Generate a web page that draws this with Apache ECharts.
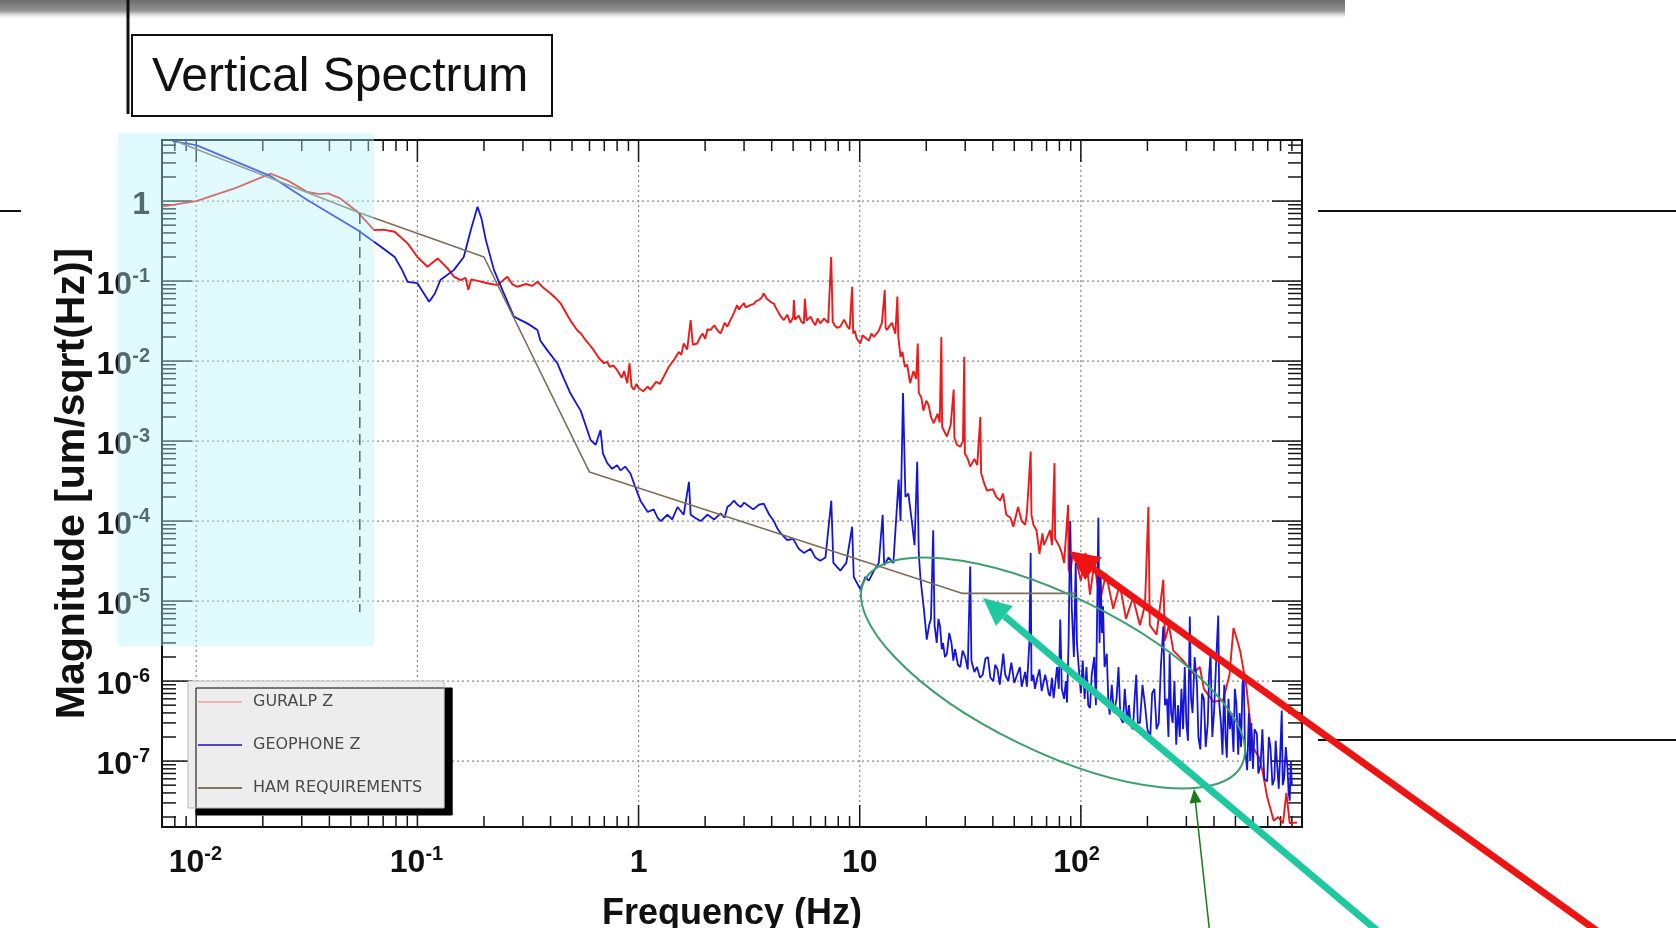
<!DOCTYPE html>
<html>
<head>
<meta charset="utf-8">
<title>Vertical Spectrum</title>
<script src="https://cdn.jsdelivr.net/npm/echarts@6.0.0/dist/echarts.min.js"></script>
<style>
  html, body { margin: 0; padding: 0; background: #fff; }
  #chart { width: 1676px; height: 928px; }
</style>
</head>
<body>
<div id="chart"></div>
<script>
// axis ranges (log scales)
const xMin = 0.007, xMax = 1000;
const yMin = 1.5e-8, yMax = 5.8;

// labelled decades and their tick labels [base, exponent]
const xTickValues = [0.01, 0.1, 1, 10, 100];
const xTickLabels = [['10', '-2'], ['10', '-1'], ['1', ''], ['10', ''], ['10', '2']];
const yTickValues = [1, 0.1, 0.01, 1e-3, 1e-4, 1e-5, 1e-6, 1e-7];
const yTickLabels = [['1', ''], ['10', '-1'], ['10', '-2'], ['10', '-3'], ['10', '-4'], ['10', '-5'], ['10', '-6'], ['10', '-7']];
const xDecadeStarts = [0.001, 0.01, 0.1, 1, 10, 100];
const yDecadeStarts = [1e-8, 1e-7, 1e-6, 1e-5, 1e-4, 1e-3, 0.01, 0.1, 1];
const tickMultipliers = [1, 2, 3, 4, 5, 6, 7, 8, 9];

// GURALP Z  [frequency Hz, magnitude]
const guralpZ = [
  [0.0071, 0.86], [0.01, 1.0], [0.015, 1.45], [0.0217, 2.2], [0.026, 1.8], [0.0318, 1.3], [0.036, 1.22],
  [0.0394, 1.25], [0.0448, 1.08], [0.0536, 0.735], [0.0637, 0.434], [0.07, 0.44], [0.0789, 0.414],
  [0.0903, 0.296], [0.1, 0.2], [0.111, 0.151], [0.1234, 0.192], [0.137, 0.144], [0.1465, 0.113],
  [0.157, 0.103], [0.165, 0.11], [0.17, 0.078], [0.175, 0.105], [0.19, 0.1], [0.207, 0.094], [0.23, 0.089],
  [0.255, 0.113], [0.27, 0.09], [0.283, 0.085], [0.31, 0.092], [0.33, 0.087], [0.349, 0.098], [0.37, 0.083],
  [0.40, 0.07], [0.42, 0.062], [0.444, 0.0527], [0.48, 0.036], [0.5, 0.03], [0.528, 0.0243], [0.55, 0.022],
  [0.57, 0.019], [0.6, 0.016], [0.628, 0.0136], [0.66, 0.011], [0.697, 0.0094], [0.72, 0.0098], [0.74, 0.0085],
  [0.77, 0.0088], [0.80, 0.0077], [0.84, 0.0062], [0.86, 0.0075], [0.889, 0.0053], [0.91, 0.0094], [0.93, 0.0048],
  [0.952, 0.0044], [0.98, 0.0052], [1.0, 0.0046], [1.05, 0.0042], [1.1, 0.0048], [1.13, 0.0044], [1.2, 0.0055],
  [1.25, 0.0052], [1.30, 0.0064], [1.37, 0.0085], [1.44, 0.0102], [1.52, 0.013], [1.56, 0.012], [1.60, 0.0166],
  [1.66, 0.014], [1.72, 0.0325], [1.76, 0.016], [1.84, 0.0166], [1.9, 0.02], [1.95, 0.022], [2.0, 0.019],
  [2.05, 0.025], [2.11, 0.0244], [2.2, 0.028], [2.28, 0.024], [2.35, 0.0222], [2.45, 0.03], [2.52, 0.027],
  [2.60, 0.0325], [2.7, 0.04], [2.79, 0.05], [2.85, 0.044], [2.9, 0.048], [3.0, 0.053], [3.05, 0.047],
  [3.2, 0.05], [3.32, 0.052], [3.4, 0.056], [3.5, 0.058], [3.6, 0.062], [3.68, 0.07], [3.75, 0.064], [3.8, 0.06],
  [3.95, 0.055], [4.09, 0.052], [4.2, 0.045], [4.3, 0.04], [4.4, 0.036], [4.54, 0.0325], [4.7, 0.038],
  [4.85, 0.03], [5.0, 0.035], [5.04, 0.058], [5.1, 0.033], [5.3, 0.037], [5.45, 0.031], [5.59, 0.0296],
  [5.65, 0.06], [5.75, 0.032], [6.0, 0.036], [6.15, 0.031], [6.3, 0.028], [6.45, 0.034], [6.63, 0.0296],
  [6.9, 0.034], [7.2, 0.03], [7.43, 0.2], [7.55, 0.031], [7.7, 0.028], [7.9, 0.026], [8.17, 0.027], [8.5, 0.033],
  [8.8, 0.027], [9.0, 0.025], [9.24, 0.085], [9.35, 0.022], [9.5, 0.024], [9.7, 0.019], [10.07, 0.0166],
  [10.3, 0.021], [10.5, 0.02], [11.0, 0.018], [11.3, 0.022], [11.6, 0.02], [12.2, 0.024], [12.6, 0.03],
  [12.98, 0.077], [13.1, 0.026], [13.3, 0.0244], [13.7, 0.028], [14.0, 0.03], [14.5, 0.022], [14.8, 0.064],
  [14.95, 0.02], [15.3, 0.0113], [15.6, 0.013], [16.0, 0.0085], [16.4, 0.009], [16.9, 0.0053], [17.5, 0.0075],
  [18.0, 0.006], [18.3, 0.0166], [18.5, 0.004], [19.0, 0.0035], [19.4, 0.0024], [20.0, 0.0032], [20.5, 0.0028],
  [21.0, 0.002], [21.6, 0.00167], [22.5, 0.0022], [23.0, 0.0017], [23.4, 0.02], [23.6, 0.0015], [24.2, 0.0013],
  [24.8, 0.00114], [25.8, 0.0016], [26.6, 0.0044], [26.8, 0.0011], [27.5, 0.0009], [28.5, 0.00085], [29.3, 0.001],
  [29.7, 0.0113], [29.9, 0.0007], [30.8, 0.0006], [31.6, 0.00048], [33, 0.0006], [34, 0.0005], [35.1, 0.002],
  [35.4, 0.0004], [36.5, 0.0003], [37.6, 0.00024], [40, 0.00025], [41.5, 0.0002], [43.2, 0.00018],
  [44.5, 0.00022], [46, 0.00012], [48, 0.00011], [49.5, 0.000085], [52, 0.00015], [54, 0.0001], [56, 0.00009],
  [57, 0.000125], [59.3, 0.00074], [59.8, 0.00012], [61, 0.00009], [63, 0.000077], [65, 0.000039], [67, 0.00007],
  [68, 0.00005], [70, 0.00006], [72.6, 0.000077], [74, 0.00005], [76, 0.00053], [76.5, 0.00006], [80, 0.000048],
  [82, 0.00004], [84, 0.00003], [87.6, 0.00016], [88, 0.000025], [89.5, 0.000022], [92, 0.00004], [95.8, 0.00003],
  [100, 0.000018], [105, 0.00004], [110, 0.000012], [115, 0.00003], [122, 0.00001], [130, 0.000022],
  [140, 0.000008], [150, 0.000016], [160, 0.000006], [172, 0.000011], [185, 0.000005], [195, 0.000009],
  [202, 0.00015], [205, 0.000005], [220, 0.0000038], [236, 0.0000185], [240, 0.0000032], [250, 0.000005],
  [262, 0.0000024], [290, 0.0000018], [322, 0.00000125], [345, 0.0000015], [360, 0.0000008], [398, 0.00000055],
  [440, 0.00000058], [470, 0.0000012], [490, 0.0000046], [505, 0.0000035], [525, 0.0000024], [560, 0.00000086],
  [600, 0.00000015], [640, 0.00000011], [665, 0.000000072], [695, 0.000000036], [745, 0.000000018],
  [780, 0.00000002], [820, 0.0000000167], [850, 0.00000004], [880, 0.0000000168], [950, 0.000000017]
];

// GEOPHONE Z  [frequency Hz, magnitude]
const geophoneZ = [
  [0.0078, 5.6], [0.01, 5.0], [0.0217, 2.05], [0.0318, 1.03], [0.0536, 0.434], [0.0684, 0.268], [0.0789, 0.20],
  [0.085, 0.14], [0.0903, 0.098], [0.1, 0.094], [0.107, 0.07], [0.113, 0.055], [0.12, 0.07], [0.127, 0.103],
  [0.146, 0.137], [0.162, 0.2], [0.175, 0.45], [0.187, 0.85], [0.195, 0.6], [0.204, 0.325], [0.222, 0.137],
  [0.246, 0.07], [0.273, 0.036], [0.29, 0.033], [0.314, 0.0296], [0.349, 0.0244], [0.36, 0.018], [0.387, 0.0136],
  [0.429, 0.0094], [0.46, 0.006], [0.493, 0.0039], [0.547, 0.0024], [0.58, 0.0015], [0.607, 0.00103],
  [0.64, 0.0009], [0.673, 0.00137], [0.69, 0.0007], [0.722, 0.00053], [0.76, 0.00045], [0.80, 0.0005],
  [0.829, 0.00043], [0.87, 0.00048], [0.92, 0.00039], [0.96, 0.00028], [1.02, 0.00018], [1.1, 0.00013],
  [1.17, 0.00014], [1.22, 0.00011], [1.26, 0.0001], [1.35, 0.00012], [1.42, 0.000105], [1.50, 0.00015],
  [1.6, 0.00012], [1.69, 0.00031], [1.72, 0.00012], [1.8, 0.00011], [1.91, 0.0001], [2.05, 0.00012],
  [2.2, 0.000105], [2.35, 0.000125], [2.45, 0.00011], [2.52, 0.00015], [2.6, 0.00016], [2.70, 0.00018],
  [2.8, 0.00016], [2.9, 0.00015], [3.0, 0.00017], [3.09, 0.00016], [3.3, 0.00014], [3.5, 0.00016],
  [3.68, 0.000165], [3.9, 0.00012], [4.09, 0.0001], [4.25, 0.00008], [4.4, 0.00007], [4.7, 0.000058],
  [5.0, 0.00006], [5.3, 0.000045], [5.59, 0.00004], [6.0, 0.000045], [6.3, 0.000035], [6.63, 0.000032],
  [7.0, 0.000035], [7.44, 0.00018], [7.6, 0.00003], [8.17, 0.000024], [8.7, 0.00003], [9.24, 0.000085],
  [9.4, 0.00002], [10.07, 0.000014], [10.6, 0.00002], [11.0, 0.000018], [11.6, 0.000024], [12.2, 0.00003],
  [12.7, 0.00012], [12.9, 0.000028], [13.5, 0.000035], [14.2, 0.00003], [15.0, 0.00033], [15.3, 0.0001],
  [15.7, 0.004], [16.1, 0.0002], [16.6, 0.00022], [17.2, 0.0001], [17.7, 0.00005], [18.2, 0.00055],
  [18.5, 0.00004], [18.8, 0.00002], [19.5, 0.000008], [20.1, 0.0000033], [20.6, 0.000005], [21.0, 0.000006],
  [21.5, 0.000077], [21.8, 0.000005], [22.3, 0.000003], [22.7, 0.000006], [23.1, 0.0000048], [23.5, 0.0000025],
  [23.8, 0.000003], [24.3, 0.000002], [24.8, 0.0000022], [25.4, 0.000004], [26, 0.000003], [26.5, 0.0000018],
  [27, 0.0000025], [27.8, 0.0000016], [28.5, 0.0000015], [29.2, 0.0000024], [30, 0.000002], [30.8, 0.0000014],
  [31.6, 0.000027], [32, 0.0000018], [33, 0.0000013], [33.9, 0.0000015], [35, 0.0000011], [36, 0.0000012],
  [37, 0.0000019], [38, 0.000002], [39, 0.0000011], [40.2, 0.000001], [41, 0.0000016], [42, 0.0000014],
  [43, 0.0000009], [44.6, 0.0000022], [45.5, 0.0000012], [47, 0.000001], [48.5, 0.0000017], [50, 0.00000095],
  [51.5, 0.0000012], [53, 0.0000015], [54, 0.00000085], [55, 0.0000009], [56, 0.0000013], [57, 0.00000085],
  [58.5, 0.000003], [59.3, 0.00004], [59.8, 0.000001], [61, 0.0000012], [62, 0.0000008], [63.5, 0.0000011],
  [65, 0.0000014], [66.5, 0.00000075], [67.7, 0.00000072], [69, 0.0000012], [70, 0.000001], [71.5, 0.0000007],
  [72.6, 0.00000065], [74, 0.0000011], [75.3, 0.00000061], [76.5, 0.0000009], [78, 0.0000015], [79.5, 0.0000008],
  [80.7, 0.0000059], [82, 0.0000008], [84, 0.0000006], [85.5, 0.000001], [86.6, 0.00000054], [88, 0.000003],
  [89.5, 0.0001], [91, 0.000008], [93, 0.000002], [94.8, 0.00003], [96, 0.000003], [97, 0.000002],
  [100, 0.0000007], [102, 0.0000018], [104, 0.0000006], [106, 0.0000015], [108, 0.0000005], [110, 0.00000046],
  [112, 0.0000012], [115, 0.000002], [117, 0.0000005], [120, 0.00011], [121.5, 0.000003], [123, 0.00002],
  [124.5, 0.000004], [126, 0.0000086], [128, 0.0000015], [131, 0.0000022], [133, 0.0000006], [135, 0.00000038],
  [138, 0.0000009], [141, 0.0000004], [145, 0.0000006], [148, 0.0000015], [151, 0.00000035], [155, 0.0000003],
  [158, 0.0000008], [162, 0.0000003], [165, 0.0000005], [168, 0.00000028], [172, 0.00000025], [175, 0.0000006],
  [178, 0.0000012], [181, 0.0000003], [185, 0.0000003], [190, 0.0000009], [195, 0.0000005], [200, 0.00000025],
  [206, 0.0000002], [210, 0.0000007], [215, 0.0000008], [220, 0.00000025], [225, 0.0000003], [230, 0.0000015],
  [236, 0.0000048], [240, 0.0000005], [245, 0.0000006], [249, 0.0000002], [252, 0.0000022], [256, 0.0000004],
  [260, 0.0000003], [265, 0.000001], [270, 0.00000016], [275, 0.0000005], [280, 0.0000002], [285, 0.0000008],
  [290, 0.00000025], [295, 0.0000015], [300, 0.0000003], [305, 0.00000018], [311, 0.0000064], [315, 0.0000006],
  [320, 0.0000004], [327, 0.000002], [335, 0.0000009], [340, 0.0000002], [347, 0.00000014], [353, 0.0000007],
  [360, 0.0000006], [367, 0.00000015], [375, 0.0000003], [380, 0.0000012], [386, 0.0000022], [393, 0.0000002],
  [400, 0.0000004], [408, 0.0000015], [418, 0.0000066], [423, 0.0000005], [430, 0.0000003], [437, 0.00000012],
  [445, 0.0000009], [451, 0.0000002], [457, 0.00000011], [465, 0.0000006], [472, 0.00000025], [480, 0.0000004],
  [490, 0.00000013], [497, 0.0000008], [505, 0.00000052], [515, 0.00000012], [522, 0.0000004], [530, 0.00000015],
  [538, 0.0000009], [545, 0.0000012], [552, 0.00000015], [565, 0.000000077], [575, 0.0000004], [583, 0.0000001],
  [590, 0.0000003], [600, 0.00000008], [610, 0.00000025], [625, 0.00000022], [635, 0.00000007], [650, 0.00000009],
  [662, 0.00000025], [675, 0.00000006], [696, 0.000000056], [708, 0.0000002], [720, 0.00000015], [735, 0.00000005],
  [750, 0.00000006], [760, 0.00000018], [770, 0.0000001], [785, 0.000000045], [797, 0.00000012], [810, 0.00000043],
  [818, 0.00000005], [830, 0.00000006], [845, 0.00000015], [860, 0.00000008], [870, 0.00000004],
  [880, 0.000000032], [890, 0.0000001], [900, 0.00000005]
];

// HAM requirement curve
const hamRequirements = [[0.0082, 5.5], [0.055, 0.71], [0.2, 0.2], [0.6, 4.1e-4], [29, 1.25e-5], [95, 1.25e-5]];

// dashed marker line
const cutoffLine = [[0.0549, 0.71], [0.0549, 7.3e-6]];

function sameDecade(a, b) {
  return Math.abs(Math.log10(a) - Math.log10(b)) < 1e-6;
}

// tick items: [value, isMajor, labelIndex]
function buildTicks(starts, lo, hi, labelled) {
  const out = [];
  starts.forEach(d => {
    tickMultipliers.forEach(k => {
      const v = +(d * k).toPrecision(6);
      if (v < lo || v > hi) return;
      const idx = labelled.findIndex(t => sameDecade(t, v));
      out.push([v, k === 1 ? 1 : 0, idx]);
    });
  });
  return out;
}

const xTicks = buildTicks(xDecadeStarts, xMin * 1.001, xMax * 0.999, xTickValues).map(t => [t[0], 1, t[1], t[2]]);
const yTicks = buildTicks(yDecadeStarts, yMin * 1.001, yMax * 0.999, yTickValues).map(t => [1, t[0], t[1], t[2]]);

const tickStyle = { stroke: '#151515', lineWidth: 1.5 };
const gridStyle = { stroke: '#8a8a8a', lineWidth: 1.2, lineDash: [2, 3] };
const baseFont = 'bold 32px "Liberation Sans", Arial, sans-serif';
const expFont = 'bold 20px "Liberation Sans", Arial, sans-serif';

function renderXTick(params, api) {
  const cs = params.coordSys;
  const px = api.coord([api.value(0), 1])[0];
  const major = api.value(2) === 1;
  const li = api.value(3);
  const top = cs.y, bottom = cs.y + cs.height;
  const len = major ? 22 : 11;
  const children = [];
  if (major) {
    children.push({ type: 'line', shape: { x1: px, y1: top, x2: px, y2: bottom }, style: gridStyle });
  }
  children.push({ type: 'line', shape: { x1: px, y1: bottom, x2: px, y2: bottom - len }, style: tickStyle });
  children.push({ type: 'line', shape: { x1: px, y1: top, x2: px, y2: top + len }, style: tickStyle });
  if (li >= 0) {
    const lab = xTickLabels[li];
    const ly = bottom + 36;
    if (lab[1]) {
      children.push({ type: 'text', x: px + 8, y: ly, style: { text: lab[0], font: baseFont, fill: '#111', align: 'right', verticalAlign: 'middle' } });
      children.push({ type: 'text', x: px + 8, y: ly - 9, style: { text: lab[1], font: expFont, fill: '#111', align: 'left', verticalAlign: 'middle' } });
    } else {
      children.push({ type: 'text', x: px, y: ly, style: { text: lab[0], font: baseFont, fill: '#111', align: 'center', verticalAlign: 'middle' } });
    }
  }
  return { type: 'group', children: children };
}

function renderYTick(params, api) {
  const cs = params.coordSys;
  const py = api.coord([1, api.value(1)])[1];
  const major = api.value(2) === 1;
  const li = api.value(3);
  const left = cs.x, right = cs.x + cs.width;
  const len = major ? 30 : 14;
  const children = [];
  if (major) {
    children.push({ type: 'line', shape: { x1: left, y1: py, x2: right, y2: py }, style: gridStyle });
  }
  children.push({ type: 'line', shape: { x1: left, y1: py, x2: left + len, y2: py }, style: tickStyle });
  children.push({ type: 'line', shape: { x1: right, y1: py, x2: right - len, y2: py }, style: tickStyle });
  if (li >= 0) {
    const lab = yTickLabels[li];
    const rx = left - 12;
    if (lab[1]) {
      children.push({ type: 'text', x: rx, y: py - 5, style: { text: lab[1], font: expFont, fill: '#111', align: 'right', verticalAlign: 'middle' } });
      children.push({ type: 'text', x: rx - 18, y: py + 4, style: { text: lab[0], font: baseFont, fill: '#111', align: 'right', verticalAlign: 'middle' } });
    } else {
      children.push({ type: 'text', x: rx, y: py + 4, style: { text: lab[0], font: baseFont, fill: '#111', align: 'right', verticalAlign: 'middle' } });
    }
  }
  return { type: 'group', children: children };
}

function arrow(tip, tail, color, width, headLen, headHalf) {
  const dx = tail[0] - tip[0], dy = tail[1] - tip[1];
  const l = Math.sqrt(dx * dx + dy * dy);
  const ux = dx / l, uy = dy / l;
  const bx = tip[0] + ux * headLen, by = tip[1] + uy * headLen;
  return [
    { type: 'line', z: 20, shape: { x1: tail[0], y1: tail[1], x2: bx, y2: by }, style: { stroke: color, lineWidth: width } },
    { type: 'polygon', z: 20, shape: { points: [tip, [bx - uy * headHalf, by + ux * headHalf], [bx + uy * headHalf, by - ux * headHalf]] }, style: { fill: color } }
  ];
}

const chart = echarts.init(document.getElementById('chart'));

const option = {
  animation: false,
  backgroundColor: '#ffffff',
  grid: {
    left: 162, top: 140, width: 1140, height: 687,
    outerBoundsMode: 'none', containLabel: false,
    show: true, borderColor: '#111', borderWidth: 2, backgroundColor: 'transparent'
  },
  xAxis: {
    type: 'log', logBase: 10, min: xMin, max: xMax,
    name: 'Frequency (Hz)', nameLocation: 'middle', nameGap: 69,
    nameTextStyle: { fontFamily: 'Liberation Sans', fontWeight: 'bold', fontSize: 36, color: '#111' },
    axisLine: { show: false }, axisTick: { show: false }, axisLabel: { show: false }, splitLine: { show: false }
  },
  yAxis: {
    type: 'log', logBase: 10, min: yMin, max: yMax,
    name: 'Magnitude [um/sqrt(Hz)]', nameLocation: 'middle', nameGap: 69,
    nameTextStyle: { fontFamily: 'Liberation Sans', fontWeight: 'bold', fontSize: 41, color: '#111' },
    axisLine: { show: false }, axisTick: { show: false }, axisLabel: { show: false }, splitLine: { show: false }
  },
  legend: {
    orient: 'vertical', left: 188, top: 681,
    padding: [12, 22, 11, 10], itemGap: 25, itemWidth: 44, itemHeight: 2,
    icon: 'rect', selectedMode: false,
    backgroundColor: '#ededed', borderColor: '#b8b8b8', borderWidth: 1,
    shadowColor: '#000', shadowBlur: 0, shadowOffsetX: 8, shadowOffsetY: 7,
    textStyle: { fontFamily: 'DejaVu Sans', fontSize: 16, color: '#4a4a4a', lineHeight: 18, padding: [0, 0, 0, 6] },
    data: [
      { name: 'GURALP Z', itemStyle: { color: '#f0b4b4' } },
      { name: 'GEOPHONE Z', itemStyle: { color: '#4848c8' } },
      { name: 'HAM REQUIREMENTS', itemStyle: { color: '#857664' } }
    ]
  },
  series: [
    { type: 'custom', name: 'xticks', z: 1, silent: true, renderItem: renderXTick, data: xTicks },
    { type: 'custom', name: 'yticks', z: 1, silent: true, renderItem: renderYTick, data: yTicks },
    {
      name: 'GURALP Z', type: 'line', data: guralpZ, showSymbol: false, z: 3,
      lineStyle: { color: '#f01818', width: 1.9 }, itemStyle: { color: '#f01818' }
    },
    {
      name: 'GEOPHONE Z', type: 'line', data: geophoneZ, showSymbol: false, z: 4,
      lineStyle: { color: '#1414dc', width: 1.8 }, itemStyle: { color: '#1414dc' }
    },
    {
      name: 'HAM REQUIREMENTS', type: 'line', data: hamRequirements, showSymbol: false, z: 5,
      lineStyle: { color: '#7d6c58', width: 1.6 }, itemStyle: { color: '#7d6c58' }
    },
    {
      name: 'cutoff', type: 'line', data: cutoffLine, showSymbol: false, z: 5,
      lineStyle: { color: '#222', width: 1.6, type: [11, 6] }
    }
  ],
  graphic: [
    {
      type: 'rect', z: 1, shape: { x: 0, y: 0, width: 1345, height: 20 },
      style: { fill: new echarts.graphic.LinearGradient(0, 0, 0, 1, [
        { offset: 0, color: '#6c6c6c' }, { offset: 0.55, color: '#969696' }, { offset: 1, color: 'rgba(255,255,255,0)' }
      ]) }
    },
    { type: 'line', z: 1, shape: { x1: 128, y1: 0, x2: 128, y2: 114 }, style: { stroke: '#111', lineWidth: 3 } },
    { type: 'rect', z: 1, shape: { x: 132, y: 35, width: 420, height: 81 }, style: { fill: '#fff', stroke: '#111', lineWidth: 2 } },
    { type: 'text', z: 2, x: 152, y: 78, style: { text: 'Vertical Spectrum', font: '48px "Liberation Sans", Arial, sans-serif', fill: '#111', verticalAlign: 'middle' } },
    { type: 'line', z: 1, shape: { x1: 0, y1: 211, x2: 21, y2: 211 }, style: { stroke: '#111', lineWidth: 2 } },
    { type: 'line', z: 1, shape: { x1: 1318, y1: 211, x2: 1676, y2: 211 }, style: { stroke: '#111', lineWidth: 2 } },
    { type: 'line', z: 1, shape: { x1: 1318, y1: 740, x2: 1676, y2: 740 }, style: { stroke: '#111', lineWidth: 2 } },
    { type: 'rect', z: 15, shape: { x: 118, y: 133, width: 256, height: 513 }, style: { fill: 'rgba(177,242,250,0.4)' } },
    {
      type: 'ellipse', z: 20, x: 1053, y: 673, rotation: -0.452,
      shape: { cx: 0, cy: 0, rx: 210, ry: 78 }, style: { fill: 'transparent', stroke: '#3d9e6e', lineWidth: 2 }
    }
  ].concat(
    arrow([983, 598], [1380, 933], '#20c8a0', 7, 28, 13),
    arrow([1069, 551], [1629, 954], '#ee1414', 7, 30, 14),
    arrow([1194, 789], [1210, 935], '#1a7a1a', 1.5, 14, 6)
  )
};

chart.setOption(option);
window.addEventListener('resize', () => chart.resize());
</script>
</body>
</html>
